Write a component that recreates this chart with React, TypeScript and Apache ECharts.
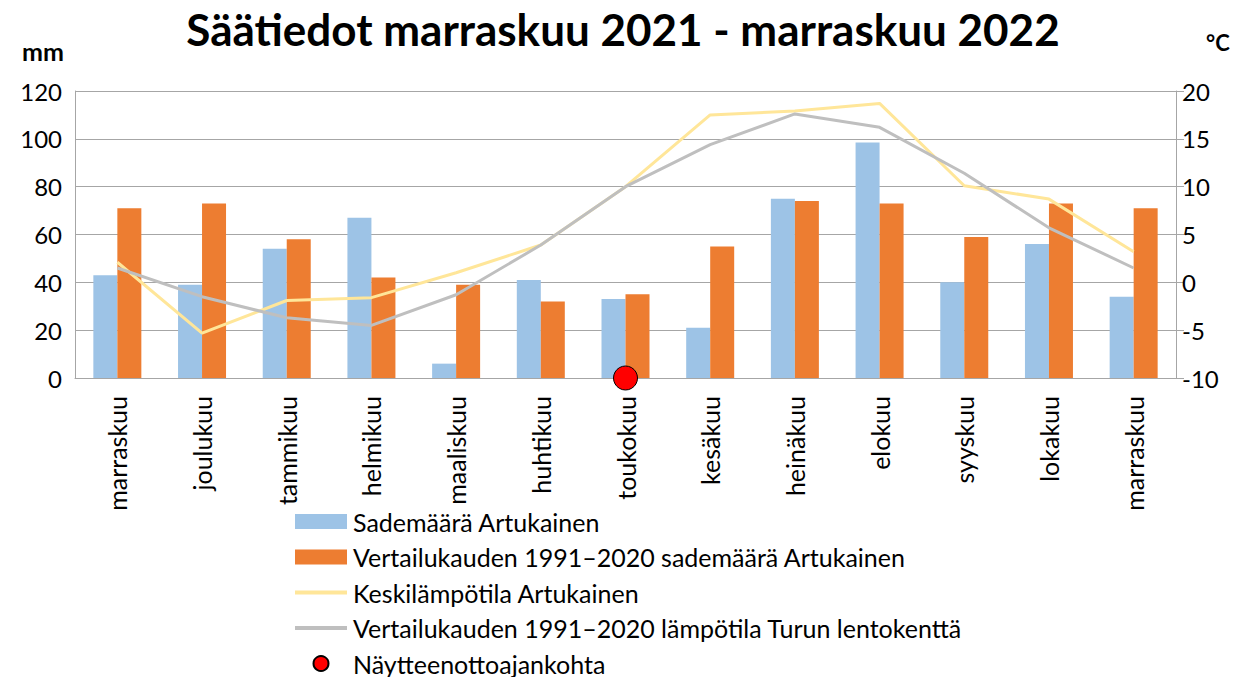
import React, { useEffect, useRef } from "react";
import * as echarts from "echarts";

const months = [
  "marraskuu", "joulukuu", "tammikuu", "helmikuu", "maaliskuu", "huhtikuu",
  "toukokuu", "kesäkuu", "heinäkuu", "elokuu", "syyskuu", "lokakuu", "marraskuu",
];
const rainArtukainen = [43, 39, 54, 67, 6, 41, 33, 21, 75, 98.5, 40, 56, 34];
const rainRef = [71, 73, 58, 42, 39, 32, 35, 55, 74, 73, 59, 73, 71];
const tempArtukainen = [2.1, -5.3, -1.9, -1.6, 1.0, 3.9, 10.0, 17.5, 17.9, 18.7, 10.1, 8.7, 3.2];
const tempRef = [1.5, -1.5, -3.7, -4.5, -1.3, 3.9, 10.0, 14.4, 17.6, 16.2, 11.4, 5.7, 1.5];
const sampling = [null, null, null, null, null, null, 0, null, null, null, null, null, null];

const names = [
  "Sademäärä Artukainen",
  "Vertailukauden 1991–2020 sademäärä Artukainen",
  "Keskilämpötila Artukainen",
  "Vertailukauden 1991–2020 lämpötila Turun lentokenttä",
  "Näytteenottoajankohta",
];

const FONT = "Lato";
const LINE_ICON = "path://M0,0 L52,0 L52,4 L0,4 Z";

export default function App() {
  const ref = useRef<HTMLDivElement>(null);
  useEffect(() => {
    document.body.style.margin = "0";
    const chart = echarts.init(ref.current!, null, { renderer: "svg" });
    const gridColor = "#a6a6a6";
    chart.setOption({
      animation: false,
      textStyle: { fontFamily: FONT, color: "#000" },
      title: {
        text: "Säätiedot marraskuu 2021 - marraskuu 2022",
        left: "center",
        top: 2,
        textStyle: { fontFamily: FONT, fontSize: 44, fontWeight: "bold", color: "#000" },
      },
      graphic: [
        { type: "text", left: 22, top: 38, style: { text: "mm", font: `bold 25px ${FONT}`, fill: "#000" } },
        { type: "text", left: 1206, top: 31, style: { text: "°C", font: `bold 22px ${FONT}`, fill: "#000" } },
      ],
      legend: {
        orient: "vertical",
        left: 295,
        top: 509,
        padding: 0,
        height: 170,
        itemWidth: 52,
        itemHeight: 15,
        itemGap: 10.5,
        textStyle: { fontFamily: FONT, fontSize: 25, color: "#000", padding: [0, 0, 0, 1] },
        data: [
          { name: names[0], icon: "rect" },
          { name: names[1], icon: "rect" },
          { name: names[2], icon: LINE_ICON },
          { name: names[3], icon: LINE_ICON },
          { name: names[4], icon: "circle" },
        ],
      },
      grid: { left: 75, right: 70, top: 91, bottom: 299, containLabel: false },
      xAxis: {
        type: "category",
        data: months,
        axisLine: { lineStyle: { color: gridColor } },
        axisTick: { show: false },
        axisLabel: { rotate: 90, fontSize: 25, color: "#000", fontFamily: FONT, margin: 18 },
      },
      yAxis: [
        {
          type: "value",
          min: 0,
          max: 120,
          interval: 20,
          axisLine: { show: true, lineStyle: { color: gridColor } },
          axisTick: { show: false },
          splitLine: { lineStyle: { color: gridColor } },
          axisLabel: { fontSize: 24, color: "#000", fontFamily: FONT, margin: 13 },
        },
        {
          type: "value",
          min: -10,
          max: 20,
          interval: 5,
          axisLine: { show: true, lineStyle: { color: gridColor } },
          axisTick: { show: true, length: 8, lineStyle: { color: gridColor } },
          splitLine: { show: false },
          axisLabel: { fontSize: 24, color: "#000", fontFamily: FONT, margin: 6 },
        },
      ],
      series: [
        {
          name: names[0],
          type: "bar",
          data: rainArtukainen,
          barWidth: 24,
          barGap: "0%",
          itemStyle: { color: "#9dc3e6" },
        },
        {
          name: names[1],
          type: "bar",
          data: rainRef,
          barWidth: 24,
          barGap: "0%",
          itemStyle: { color: "#ed7d31" },
        },
        {
          name: names[2],
          type: "line",
          yAxisIndex: 1,
          data: tempArtukainen,
          symbol: "none",
          lineStyle: { color: "#ffe699", width: 3 },
          itemStyle: { color: "#ffe699" },
        },
        {
          name: names[3],
          type: "line",
          yAxisIndex: 1,
          data: tempRef,
          symbol: "none",
          lineStyle: { color: "#bfbfbf", width: 3 },
          itemStyle: { color: "#bfbfbf" },
        },
        {
          name: names[4],
          type: "scatter",
          data: sampling,
          symbol: "circle",
          symbolSize: 24,
          z: 10,
          itemStyle: { color: "#ff0000", borderColor: "#000", borderWidth: 1, opacity: 1 },
        },
      ],
    });
    return () => chart.dispose();
  }, []);
  return <div ref={ref} style={{ width: 1246, height: 677 }} />;
}
